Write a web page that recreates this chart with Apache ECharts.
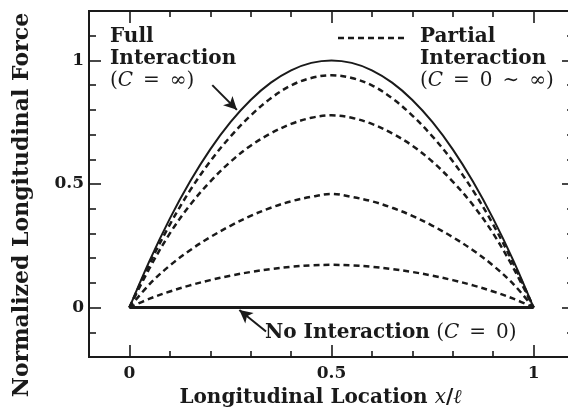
<!DOCTYPE html>
<html>
<head>
<meta charset="utf-8">
<script src="https://cdn.jsdelivr.net/npm/echarts@6/dist/echarts.min.js"></script>
<style>html,body{margin:0;padding:0;background:#fff}#c{width:568px;height:409px}</style>
</head>
<body>
<div id="c"></div>
<script>
// ---- data ----
var xs = [0,0.05,0.1,0.15,0.2,0.25,0.3,0.35,0.4,0.45,0.5,0.55,0.6,0.65,0.7,0.75,0.8,0.85,0.9,0.95,1];
var fullInteraction = [0,0.19,0.36,0.51,0.64,0.75,0.84,0.91,0.96,0.99,1.0,0.99,0.96,0.91,0.84,0.75,0.64,0.51,0.36,0.19,0];
var partial1 = [0,0.178,0.336,0.474,0.592,0.692,0.777,0.847,0.899,0.929,0.94,0.929,0.899,0.847,0.777,0.692,0.592,0.474,0.336,0.178,0];
var partial2 = [0,0.16,0.30,0.415,0.51,0.59,0.655,0.705,0.743,0.768,0.778,0.768,0.743,0.705,0.655,0.59,0.51,0.415,0.30,0.16,0];
var partial3 = [0,0.095,0.17,0.232,0.285,0.331,0.371,0.404,0.43,0.448,0.46,0.448,0.43,0.404,0.371,0.331,0.285,0.232,0.17,0.095,0];
var partial4 = [0,0.036,0.065,0.09,0.111,0.129,0.144,0.156,0.165,0.171,0.173,0.171,0.165,0.156,0.144,0.129,0.111,0.09,0.065,0.036,0];
var noInteractionX = [0,1];
var noInteractionY = [0,0];
var xMajorTicks = [0,0.5,1];
var xMinorTicks = [0.1,0.2,0.3,0.4,0.6,0.7,0.8,0.9];
var yMajorTicks = [0,0.5,1];
var yMinorTicks = [-0.1,0.1,0.2,0.3,0.4,0.6,0.7,0.8,0.9,1.1];
var xRange = [-0.1,1.1];
var yRange = [-0.2,1.2];
// annotation arrows (data space): [tail, head]
var arrowFull = [[0.205,0.90],[0.266,0.80]];
var arrowNone = [[0.338,-0.097],[0.272,-0.01]];

// ---- chart ----
var ink = '#1a1a1a';
var serifB = 'DejaVu Serif';
function zip(a,b){ return a.map(function(v,i){return [v,b[i]];}); }
function fmt(v){ return String(Math.round(v*10)/10); }

function xAxisDef(pos, ticks, len, labels){
  return {
    type:'value', position:pos, min:xRange[0], max:xRange[1],
    axisLine:{show:false, onZero:false}, splitLine:{show:false},
    axisTick:{show:true, inside:true, length:len, customValues:ticks, lineStyle:{color:ink,width:1.6}},
    axisLabel:{show:labels, customValues:ticks, formatter:fmt, margin:8,
      fontFamily:serifB, fontWeight:'bold', fontSize:17, color:ink}
  };
}
function yAxisDef(pos, ticks, len, labels){
  return {
    type:'value', position:pos, min:yRange[0], max:yRange[1],
    axisLine:{show:false, onZero:false}, splitLine:{show:false},
    axisTick:{show:true, inside:true, length:len, customValues:ticks, lineStyle:{color:ink,width:1.6}},
    axisLabel:{show:labels, customValues:ticks, formatter:fmt, margin:5,
      fontFamily:serifB, fontWeight:'bold', fontSize:17, color:ink}
  };
}

var xA = [
  xAxisDef('bottom', xMajorTicks, 12, true),
  xAxisDef('bottom', xMinorTicks, 6, false),
  xAxisDef('top', xMajorTicks, 12, false),
  xAxisDef('top', xMinorTicks, 6, false)
];
xA[0].name = 'Longitudinal Location {i|x}/{i|ℓ}';
xA[0].nameLocation = 'middle';
xA[0].nameGap = 31;
xA[0].nameTextStyle = {fontFamily:serifB, fontWeight:'bold', fontSize:20, color:ink, padding:[0,22,0,0],
  rich:{i:{fontFamily:serifB, fontStyle:'italic', fontWeight:'normal', fontSize:20, color:ink}}};

var yA = [
  yAxisDef('left', yMajorTicks, 12, true),
  yAxisDef('left', yMinorTicks, 7, false),
  yAxisDef('right', yMajorTicks, 12, false),
  yAxisDef('right', yMinorTicks, 7, false)
];
yA[0].name = 'Normalized Longitudinal Force';
yA[0].nameLocation = 'middle';
yA[0].nameGap = 56;
yA[0].nameTextStyle = {fontFamily:serifB, fontWeight:'bold', fontSize:22, color:ink, padding:[0,42,0,0]};

function dashed(name, d){
  return {name:name, type:'line', data:zip(xs,d), smooth:0.35, showSymbol:false, silent:true,
    lineStyle:{color:ink, width:2.5, type:[6,4]}};
}

var F = '"DejaVu Serif"';
var option = {
  backgroundColor:'#fff',
  animation:false,
  grid:{left:89, top:11, width:485, height:346, show:true, borderColor:ink, borderWidth:2,
    backgroundColor:'transparent', containLabel:false, outerBoundsMode:'none'},
  xAxis:xA,
  yAxis:yA,
  series:[
    {name:'Full Interaction', type:'line', data:zip(xs,fullInteraction), smooth:0.35, showSymbol:false, silent:true,
      lineStyle:{color:ink, width:2}},
    dashed('Partial 1', partial1),
    dashed('Partial 2', partial2),
    dashed('Partial 3', partial3),
    dashed('Partial 4', partial4),
    {name:'No Interaction', type:'line', data:zip(noInteractionX,noInteractionY), showSymbol:false, silent:true,
      lineStyle:{color:ink, width:3},
      markLine:{silent:true, symbol:['none','arrow'], symbolSize:[10,13], label:{show:false},
        lineStyle:{color:ink, width:2, type:'solid'},
        data:[
          [{coord:arrowFull[0]},{coord:arrowFull[1]}],
          [{coord:arrowNone[0]},{coord:arrowNone[1]}]
        ]}}
  ],
  graphic:[
    {type:'text', left:110, top:27, style:{text:'Full', font:'bold 20px '+F, fill:ink}},
    {type:'text', left:110, top:49, style:{text:'Interaction', font:'bold 20px '+F, fill:ink}},
    {type:'text', left:110, top:71, style:{text:'({i|C}\u2002=\u2002∞)', font:'20px '+F, fill:ink,
      rich:{i:{fontStyle:'italic', fontFamily:'DejaVu Serif', fontSize:20}}}},
    {type:'line', shape:{x1:338,y1:38,x2:407,y2:38}, style:{stroke:ink, lineWidth:2.5, lineDash:[6,4]}},
    {type:'text', left:420, top:27, style:{text:'Partial', font:'bold 20px '+F, fill:ink}},
    {type:'text', left:420, top:49, style:{text:'Interaction', font:'bold 20px '+F, fill:ink}},
    {type:'text', left:420, top:71, style:{text:'({i|C}\u2002=\u20020\u2002∼\u2002∞)', font:'20px '+F, fill:ink,
      rich:{i:{fontStyle:'italic', fontFamily:'DejaVu Serif', fontSize:20}}}},
    {type:'text', left:265, top:323, style:{text:'{b|No Interaction} ({i|C}\u2002=\u20020)', font:'20px '+F, fill:ink,
      rich:{b:{fontWeight:'bold', fontFamily:'DejaVu Serif', fontSize:20}, i:{fontStyle:'italic', fontFamily:'DejaVu Serif', fontSize:20}}}}
  ]
};
var chart = echarts.init(document.getElementById('c'), null, {renderer:'canvas'});
chart.setOption(option);
</script>
</body>
</html>
